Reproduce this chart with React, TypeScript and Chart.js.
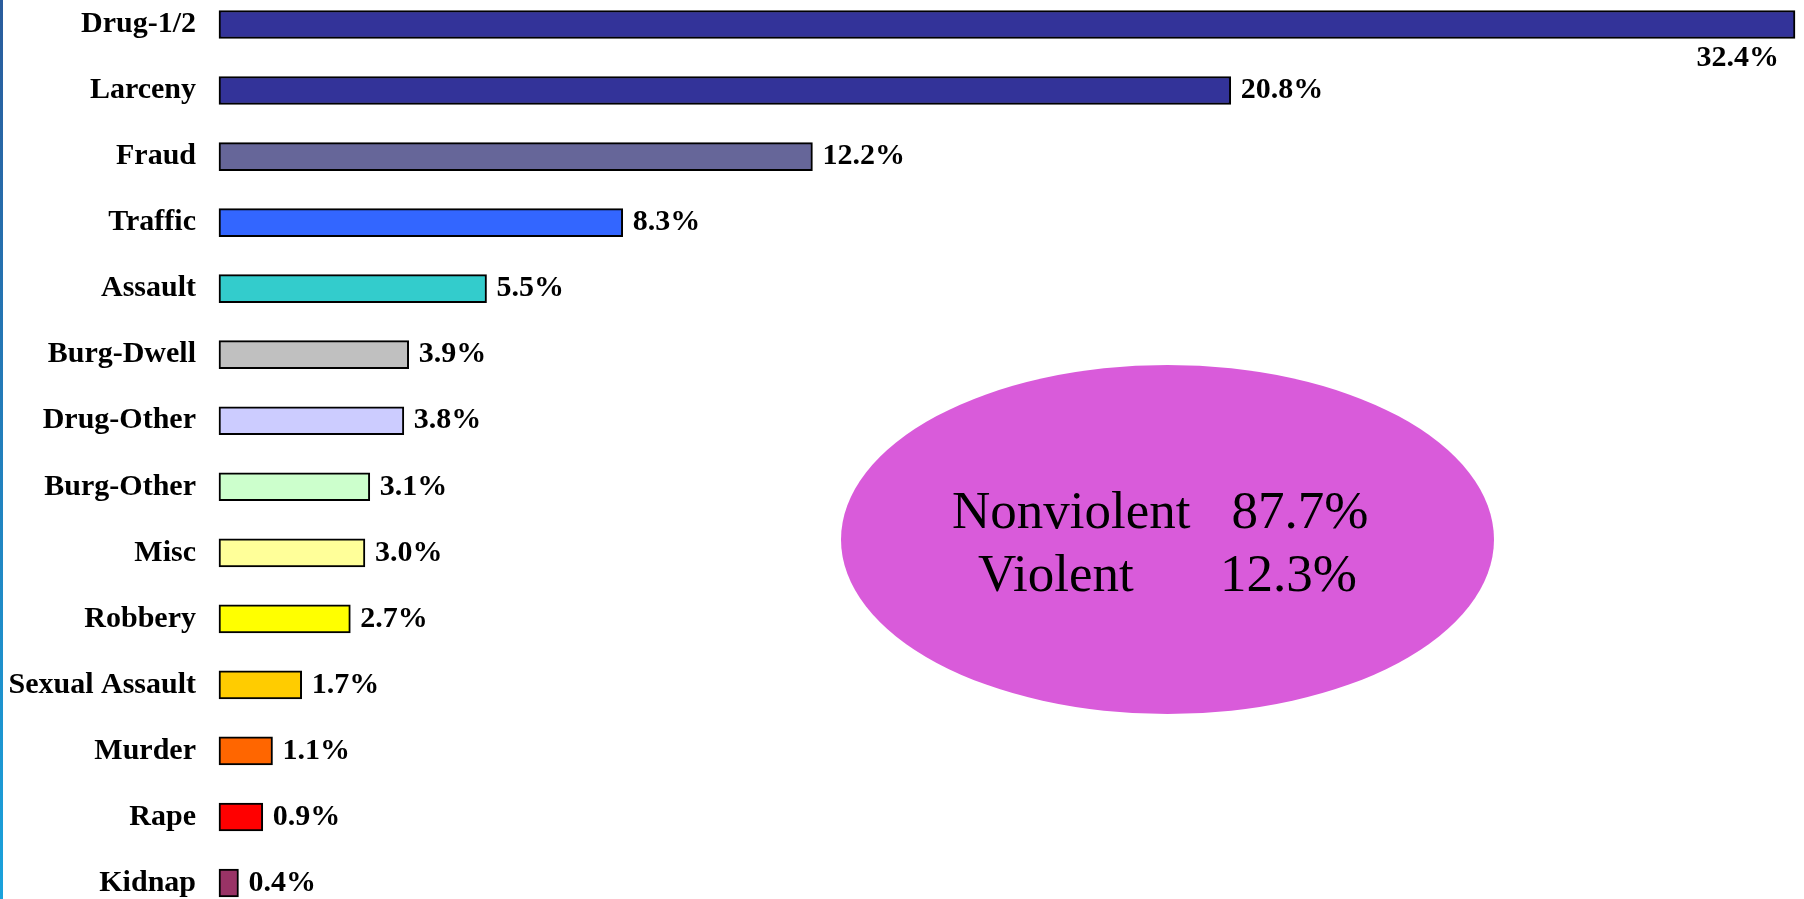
import React, { useEffect, useRef } from "react";
import { Chart, registerables } from "chart.js";

Chart.register(...registerables);

const categories = [
  "Drug-1/2",
  "Larceny",
  "Fraud",
  "Traffic",
  "Assault",
  "Burg-Dwell",
  "Drug-Other",
  "Burg-Other",
  "Misc",
  "Robbery",
  "Sexual Assault",
  "Murder",
  "Rape",
  "Kidnap",
];
const percentages = [32.4, 20.8, 12.2, 8.3, 5.5, 3.9, 3.8, 3.1, 3.0, 2.7, 1.7, 1.1, 0.9, 0.4];
const barColors = [
  "#333399",
  "#333399",
  "#666699",
  "#3366FF",
  "#33CCCC",
  "#C0C0C0",
  "#CCCCFF",
  "#CCFFCC",
  "#FFFF99",
  "#FFFF00",
  "#FFCC00",
  "#FF6600",
  "#FF0000",
  "#993366",
];
const summaryLabels = ["Nonviolent", "Violent"];
const summaryValues = [87.7, 12.3];

const SERIF = "'Liberation Serif', 'Times New Roman', Times, serif";

const decorPlugin = {
  id: "decor",
  beforeDraw(chart: any) {
    const ctx = chart.ctx;
    ctx.save();
    const g = ctx.createLinearGradient(0, 0, 0, chart.height);
    g.addColorStop(0, "#2a5c9c");
    g.addColorStop(1, "#1aa2dc");
    ctx.fillStyle = g;
    ctx.fillRect(0, 0, 3, chart.height);
    ctx.restore();
  },
  afterDatasetsDraw(chart: any) {
    const ctx = chart.ctx;
    const area = chart.chartArea;
    ctx.save();
    // value labels
    ctx.font = `bold 30px ${SERIF}`;
    ctx.fillStyle = "#000";
    const meta = chart.getDatasetMeta(0);
    meta.data.forEach((bar: any, i: number) => {
      const text = percentages[i].toFixed(1) + "%";
      const w = ctx.measureText(text).width;
      const gap = 10;
      if (bar.x + gap + w > area.right) {
        ctx.textAlign = "right";
        ctx.textBaseline = "alphabetic";
        ctx.fillText(text, bar.x - 16, bar.y + 41.5);
      } else {
        ctx.textAlign = "left";
        ctx.textBaseline = "middle";
        ctx.fillText(text, bar.x + gap, bar.y);
      }
    });

    // summary ellipse
    const cx = 1167.5;
    const cy = 539.5;
    ctx.beginPath();
    ctx.ellipse(cx, cy, 326.5, 174.5, 0, 0, Math.PI * 2);
    ctx.fillStyle = "#D95BDA";
    ctx.fill();
    ctx.fillStyle = "#000";
    ctx.font = `53px ${SERIF}`;
    ctx.textAlign = "left";
    ctx.textBaseline = "alphabetic";
    const labelDx = [-215.5, -189.5];
    const valueDx = [64, 52.5];
    const baseDy = [-11.5, 51.5];
    summaryLabels.forEach((lab, i) => {
      ctx.fillText(lab, cx + labelDx[i], cy + baseDy[i]);
      ctx.fillText(summaryValues[i].toFixed(1) + "%", cx + valueDx[i], cy + baseDy[i]);
    });
    ctx.restore();
  },
};

export default function App() {
  const canvasRef = useRef<HTMLCanvasElement | null>(null);

  useEffect(() => {
    if (!canvasRef.current) return;
    const chart = new Chart(canvasRef.current, {
      type: "bar",
      data: {
        labels: categories,
        datasets: [
          {
            data: percentages,
            backgroundColor: barColors,
            borderColor: "#000000",
            borderWidth: 2,
            borderSkipped: false,
            barThickness: 28,
            clip: false,
          },
        ],
      },
      options: {
        indexAxis: "y",
        animation: false,
        responsive: true,
        maintainAspectRatio: false,
        layout: { padding: { top: 24.5, bottom: 16, right: 9, left: 0 } },
        plugins: {
          legend: { display: false },
          tooltip: { enabled: false },
          title: { display: false },
        },
        scales: {
          x: {
            display: false,
            min: 0,
            max: 32.4,
          },
          y: {
            offset: false,
            grid: { display: false, drawTicks: false },
            border: { display: false },
            ticks: {
              padding: 23,
              color: "#000",
              autoSkip: false,
              font: { family: SERIF, size: 30, weight: "bold", lineHeight: 1 },
            },
            afterFit(scale: any) {
              scale.width = 219;
              scale.paddingTop = 0;
              scale.paddingBottom = 0;
            },
          },
        },
      },
      plugins: [decorPlugin],
    });
    return () => chart.destroy();
  }, []);

  return (
    <div style={{ position: "absolute", left: 0, top: 0, width: 1804, height: 899, background: "#fff" }}>
      <canvas ref={canvasRef} />
    </div>
  );
}
